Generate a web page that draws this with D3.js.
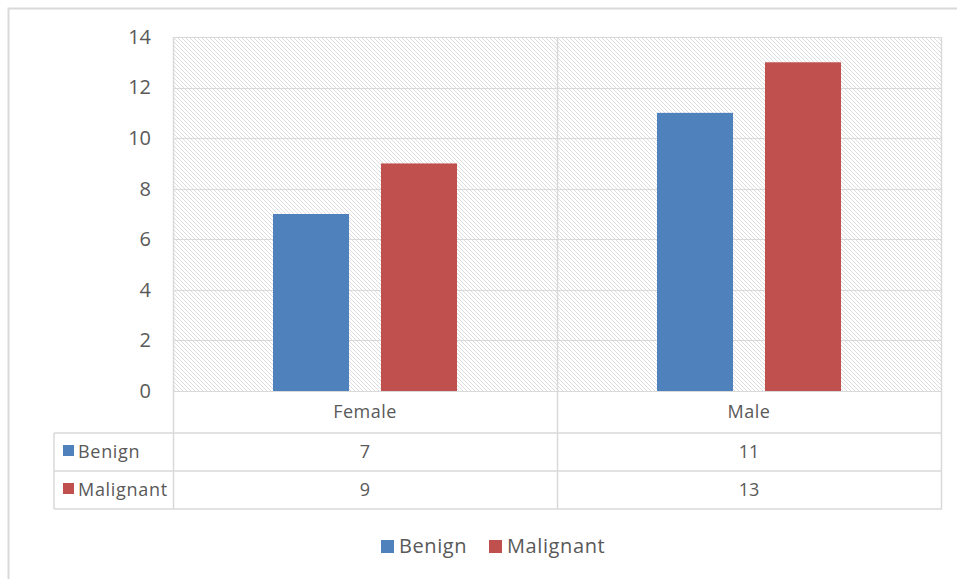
<!DOCTYPE html>
<html>
<head>
<meta charset="utf-8">
<script src="https://cdn.jsdelivr.net/npm/d3@7"></script>
<style>
  html, body { margin: 0; padding: 0; background: #ffffff; }
  svg { display: block; font-family: "Open Sans", Lato, sans-serif; }
</style>
</head>
<body>
<svg id="chart" width="957" height="579"></svg>
<script>
// Chart data
const categories = ["Female", "Male"];
const seriesNames = ["Benign", "Malignant"];
const benign = [7, 11];
const malignant = [9, 13];
const yTicks = [0, 2, 4, 6, 8, 10, 12, 14];
const colors = ["#4F81BD", "#C0504D"];

const seriesValues = [benign, malignant];

const svg = d3.select("#chart");
const textColor = "#595959";
const gridColor = "#d9d9d9";
const fontFamily = "'Open Sans', Lato, sans-serif";

// Outer frame
svg.append("rect")
  .attr("x", 8.5).attr("y", 8.5)
  .attr("width", 960).attr("height", 600)
  .attr("fill", "none").attr("stroke", "#d9d9d9").attr("stroke-width", 2);

// Plot geometry
const plot = { left: 173, right: 941, top: 37, bottom: 391 };

const x = d3.scaleBand().domain(categories).range([plot.left, plot.right]);
const xs = d3.scaleBand().domain(seriesNames)
  .range([0, x.bandwidth()]).paddingInner(0.296).paddingOuter(0.926);
const y = d3.scaleLinear().domain([0, 14]).range([plot.bottom, plot.top]);

// Diagonal hatch fill for the plot background
const defs = svg.append("defs");
const pat = defs.append("pattern")
  .attr("id", "hatch").attr("patternUnits", "userSpaceOnUse")
  .attr("width", 4).attr("height", 4);
pat.append("path")
  .attr("d", "M-1,-1 L5,5 M-1,3 L1,5 M3,-1 L5,1")
  .attr("stroke", "#dedede").attr("stroke-width", 1);

svg.append("rect")
  .attr("x", plot.left).attr("y", plot.top)
  .attr("width", plot.right - plot.left).attr("height", plot.bottom - plot.top)
  .attr("fill", "url(#hatch)");

// Horizontal gridlines
svg.append("g").selectAll("line").data(yTicks).join("line")
  .attr("x1", plot.left).attr("x2", plot.right)
  .attr("y1", d => Math.round(y(d)) + 0.5).attr("y2", d => Math.round(y(d)) + 0.5)
  .attr("stroke", gridColor).attr("stroke-width", 1);

// Plot outline
svg.append("rect")
  .attr("x", plot.left + 0.5).attr("y", plot.top + 0.5)
  .attr("width", plot.right - plot.left).attr("height", plot.bottom - plot.top)
  .attr("fill", "none").attr("stroke", gridColor);

// Y axis labels
const yAxis = d3.axisLeft(y).tickValues(yTicks).tickSize(0).tickPadding(22);
const gy = svg.append("g").attr("transform", `translate(${plot.left},0)`).call(yAxis);
gy.select(".domain").remove();
gy.selectAll("text")
  .attr("fill", textColor).attr("font-size", 20)
  .attr("font-family", fontFamily);

// Bars
const groups = svg.append("g").selectAll("g").data(categories).join("g")
  .attr("transform", d => `translate(${x(d)},0)`);
groups.selectAll("rect")
  .data((c, i) => seriesNames.map((s, j) => ({ s, v: seriesValues[j][i], j })))
  .join("rect")
  .attr("x", d => xs(d.s))
  .attr("width", xs.bandwidth())
  .attr("y", d => y(d.v))
  .attr("height", d => y(0) - y(d.v))
  .attr("fill", d => colors[d.j]);

// Data table below the plot
const tableLeft = 54;
const rowEdges = [plot.bottom, 433, 471, 509];

const tbl = svg.append("g").attr("stroke", gridColor).attr("stroke-width", 1.5);
[1, 2, 3].forEach(k => {
  tbl.append("line").attr("x1", tableLeft).attr("x2", plot.right + 1)
    .attr("y1", rowEdges[k]).attr("y2", rowEdges[k]);
});
tbl.append("line").attr("x1", tableLeft).attr("x2", tableLeft)
  .attr("y1", rowEdges[1]).attr("y2", rowEdges[3]);
const vxs = [plot.left, ...categories.slice(1).map(c => x(c)), plot.right];
tbl.selectAll(".v").data(vxs).join("line")
  .attr("x1", d => d + 0.5).attr("x2", d => d + 0.5)
  .attr("y1", plot.top).attr("y2", rowEdges[3]);

// Category labels
svg.append("g").selectAll("text").data(categories).join("text")
  .attr("x", d => x(d) + x.bandwidth() / 2)
  .attr("y", (rowEdges[0] + rowEdges[1]) / 2 + 6)
  .attr("text-anchor", "middle")
  .attr("fill", textColor).attr("font-size", 18).attr("letter-spacing", 0.5)
  .text(d => d);

// Series rows
seriesNames.forEach((s, j) => {
  const cy = (rowEdges[j + 1] + rowEdges[j + 2]) / 2;
  svg.append("rect")
    .attr("x", 63).attr("y", cy - 7).attr("width", 11).attr("height", 11)
    .attr("fill", colors[j]);
  svg.append("text")
    .attr("x", 78).attr("y", cy + 6)
    .attr("fill", textColor).attr("font-size", 18).attr("letter-spacing", 0.7)
    .text(s);
  svg.append("g").selectAll("text").data(categories).join("text")
    .attr("x", d => x(d) + x.bandwidth() / 2)
    .attr("y", cy + 6)
    .attr("text-anchor", "middle")
    .attr("fill", textColor).attr("font-size", 18)
    .text((d, i) => seriesValues[j][i]);
});

// Legend
const legendItems = [{ name: seriesNames[0], x: 381 }, { name: seriesNames[1], x: 489 }];
const lg = svg.append("g");
legendItems.forEach((it, j) => {
  lg.append("rect").attr("x", it.x).attr("y", 540).attr("width", 13).attr("height", 13)
    .attr("fill", colors[j]);
  lg.append("text").attr("x", it.x + 18).attr("y", 553)
    .attr("fill", textColor).attr("font-size", 20).attr("letter-spacing", 0.6)
    .text(it.name);
});
</script>
</body>
</html>
